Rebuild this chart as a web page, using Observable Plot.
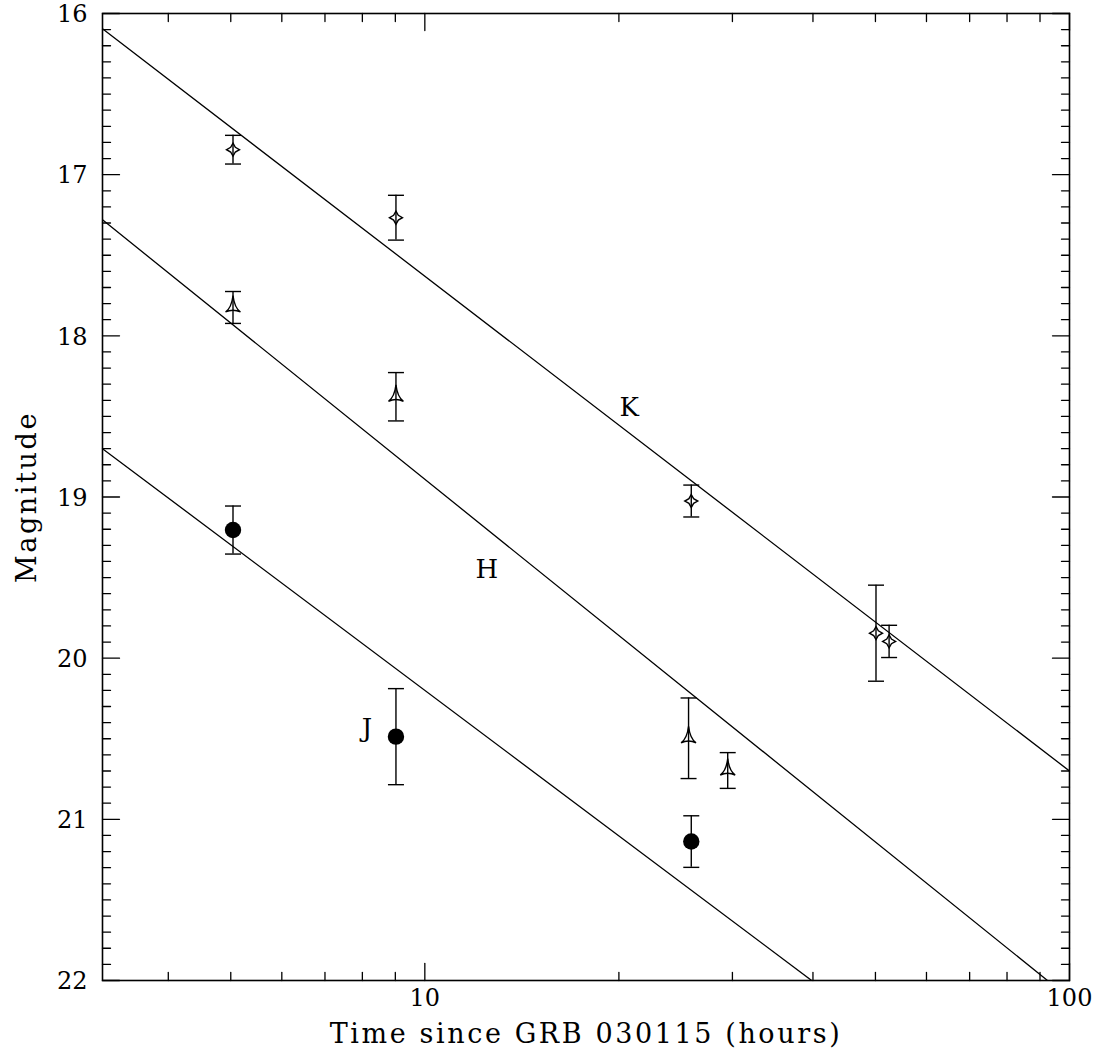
<!DOCTYPE html>
<html><head><meta charset="utf-8">
<script src="https://cdn.jsdelivr.net/npm/d3@7"></script>
<script src="https://cdn.jsdelivr.net/npm/@observablehq/plot@0.6"></script>
<style>
body{margin:0;background:#fff}
#chart svg{display:block}
.axis-title text{letter-spacing:2.6px}
</style>
</head><body><div id="chart"></div>
<script>
// ---- Data ----
// K band (four-pointed star)
const kTime = [5.04, 9.02, 25.9, 50.1, 52.5];
const kMag  = [16.845, 17.267, 19.025, 19.845, 19.896];
const kErr  = [0.089, 0.139, 0.099, 0.298, 0.100];
// H band (three-pointed star)
const hTime = [5.04, 9.02, 25.65, 29.5];
const hMag  = [17.824, 18.378, 20.497, 20.697];
const hErr  = [0.099, 0.150, 0.250, 0.111];
// J band (filled circle)
const jTime = [5.04, 9.02, 25.9];
const jMag  = [19.205, 20.487, 21.138];
const jErr  = [0.149, 0.298, 0.160];

// Power-law fits: magnitude at t = 10 h and decline in magnitudes per decade
const fitBand     = ["K", "H", "J"];
const fitMagAt10h = [17.63, 18.89, 20.20];
const fitSlope    = [3.07, 3.22, 3.00];

// Band labels placed on the plot
const labelText = ["K", "H", "J"];
const labelTime = [20.75, 12.48, 8.13];
const labelMag  = [18.444, 19.449, 20.436];

// Axes
const xDomain = [Math.sqrt(10), 100];
const yDomain = [16, 22];
const xTickLabels = [10, 100];
const xMinorTicks = [4, 5, 6, 7, 8, 9, 20, 30, 40, 50, 60, 70, 80, 90];
const yTickLabels = [16, 17, 18, 19, 20, 21, 22];
const yMinorTicks = d3.range(161, 220).map(v => v / 10).filter(v => !Number.isInteger(v));
const xTitle = "Time since GRB 030115 (hours)";
const yTitle = "Magnitude";

// ---- Build tables ----
const makeRows = (band, t, m, e) => t.map((time, i) => ({band, time, mag: m[i], err: e[i]}));
const points = [
  ...makeRows("K", kTime, kMag, kErr),
  ...makeRows("H", hTime, hMag, hErr),
  ...makeRows("J", jTime, jMag, jErr)
];
const fitLines = fitBand.flatMap((band, i) =>
  xDomain.map(t => ({band, time: t, mag: fitMagAt10h[i] + fitSlope[i] * Math.log10(t / 10)}))
);
const labels = labelText.map((text, i) => ({text, time: labelTime[i], mag: labelMag[i]}));

// ---- Custom symbols ----
const starK = {draw(ctx, size) {
  const r = Math.sqrt(size / Math.PI), q = r * 0.36;
  ctx.moveTo(0, -r);
  ctx.lineTo(q, -q);
  ctx.lineTo(r, 0);
  ctx.lineTo(q, q);
  ctx.lineTo(0, r);
  ctx.lineTo(-q, q);
  ctx.lineTo(-r, 0);
  ctx.lineTo(-q, -q);
  ctx.closePath();
}};
const starH = {draw(ctx, size) {
  const r = Math.sqrt(size / Math.PI);
  ctx.moveTo(0, -1.2 * r);
  ctx.quadraticCurveTo(0.15 * r, 0.05 * r, 0.75 * r, 0.45 * r);
  ctx.quadraticCurveTo(0, 0.1 * r, -0.75 * r, 0.45 * r);
  ctx.quadraticCurveTo(-0.15 * r, 0.05 * r, 0, -1.2 * r);
  ctx.closePath();
}};
const cap = {draw(ctx, size) {
  const r = Math.sqrt(size / Math.PI);
  ctx.moveTo(-r, 0);
  ctx.lineTo(r, 0);
}};
const tickShape = {draw(ctx, l) { ctx.moveTo(0, 0); ctx.lineTo(0, -l); }};

const font = "DejaVu Serif, serif";
const tick = (data, opts, len) => Plot.vector(data, {...opts, length: len, anchor: "start", shape: tickShape, stroke: "black", strokeWidth: 1.3});

const chart = Plot.plot({
  width: 1099,
  height: 1063,
  marginLeft: 102,
  marginRight: 30,
  marginTop: 13,
  marginBottom: 83,
  style: {fontFamily: font, background: "white", color: "black"},
  x: {type: "log", domain: xDomain, axis: null},
  y: {domain: yDomain, reverse: true, axis: null},
  marks: [
    // fitted lines
    Plot.line(fitLines, {x: "time", y: "mag", z: "band", stroke: "black", strokeWidth: 1.3, clip: true}),
    // error bars
    Plot.ruleX(points, {x: "time", y1: d => d.mag - d.err, y2: d => d.mag + d.err, stroke: "black", strokeWidth: 1.4}),
    Plot.dot(points, {x: "time", y: d => d.mag - d.err, symbol: cap, r: 8, stroke: "black", strokeWidth: 1.4}),
    Plot.dot(points, {x: "time", y: d => d.mag + d.err, symbol: cap, r: 8, stroke: "black", strokeWidth: 1.4}),
    // markers
    Plot.dot(points.filter(d => d.band === "K"), {x: "time", y: "mag", symbol: starK, r: 6.5, stroke: "black", strokeWidth: 1.4, fill: "none"}),
    Plot.dot(points.filter(d => d.band === "H"), {x: "time", y: "mag", symbol: starH, r: 10, stroke: "black", strokeWidth: 1.4, fill: "none"}),
    Plot.dot(points.filter(d => d.band === "J"), {x: "time", y: "mag", r: 8.2, fill: "black", stroke: "none"}),
    // band labels
    Plot.text(labels, {x: "time", y: "mag", text: "text", fontSize: 26, fontFamily: font, fill: "black"}),
    // frame and ticks (inward on all four sides)
    Plot.frame({stroke: "black", strokeWidth: 1.6}),
    tick(xTickLabels, {x: d => d, frameAnchor: "bottom", rotate: 0}, 17),
    tick(xMinorTicks, {x: d => d, frameAnchor: "bottom", rotate: 0}, 8),
    tick(xTickLabels, {x: d => d, frameAnchor: "top", rotate: 180}, 17),
    tick(xMinorTicks, {x: d => d, frameAnchor: "top", rotate: 180}, 8),
    tick(yTickLabels, {y: d => d, frameAnchor: "left", rotate: 90}, 17),
    tick(yMinorTicks, {y: d => d, frameAnchor: "left", rotate: 90}, 8),
    tick(yTickLabels, {y: d => d, frameAnchor: "right", rotate: -90}, 17),
    tick(yMinorTicks, {y: d => d, frameAnchor: "right", rotate: -90}, 8),
    // tick labels
    Plot.text(xTickLabels, {x: d => d, frameAnchor: "bottom", dy: 25, text: d => String(d), fontSize: 24, fontFamily: font, fill: "black"}),
    Plot.text(yTickLabels, {y: d => d, frameAnchor: "left", dx: -15, dy: 1, text: d => String(d), textAnchor: "end", fontSize: 24, fontFamily: font, fill: "black"}),
    // axis titles
    Plot.text([xTitle], {frameAnchor: "bottom", dy: 62, text: d => d, textAnchor: "middle", fontSize: 27, fontFamily: font, fill: "black", className: "axis-title"}),
    Plot.text([yTitle], {frameAnchor: "left", dx: -75, rotate: -90, text: d => d, textAnchor: "middle", fontSize: 27, fontFamily: font, fill: "black", className: "axis-title"})
  ]
});
document.getElementById("chart").append(chart);
</script>
</body></html>
